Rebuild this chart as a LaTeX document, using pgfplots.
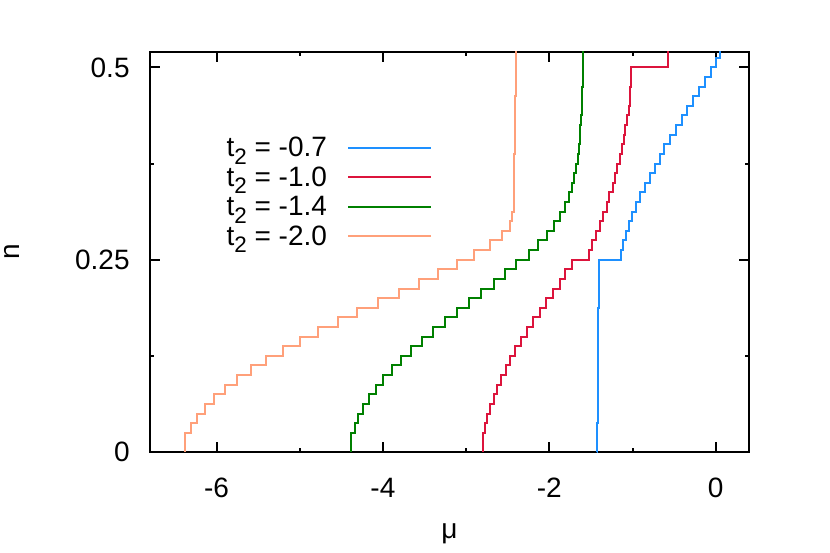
\documentclass[border=0pt]{standalone}
\usepackage{fontspec}
\setmainfont{Liberation Sans}
\usepackage{pgfplots}
\pgfplotsset{compat=1.18}
\definecolor{cblue}{RGB}{30,144,255}
\definecolor{cred}{RGB}{220,20,60}
\definecolor{cgreen}{RGB}{0,128,0}
\definecolor{corange}{RGB}{255,160,122}
\newcommand{\ttwo}{t\raisebox{-3.6pt}{\fontsize{11.2}{12}\selectfont 2}}
\begin{document}
\begin{tikzpicture}
\begin{axis}[
  scale only axis,
  width=299.5pt, height=200pt,
  xmin=-6.8, xmax=0.4, ymin=0, ymax=0.52,
  xtick={-6,-4,-2,0}, xticklabels={-6,-4,-2,0},
  ytick={0,0.25,0.5}, yticklabels={0,0.25,0.5},
  minor x tick num=1, minor y tick num=1,
  major tick length=5pt, minor tick length=2.2pt,
  axis line style={line width=1pt},
  tick style={line width=1pt, black},
  tick label style={font=\fontsize{14}{16}\selectfont},
  xticklabel style={inner sep=0pt, yshift=-13pt},
  yticklabel style={inner sep=0pt, xshift=-10pt},
  xlabel={μ}, ylabel={n},
  label style={font=\fontsize{14}{16}\selectfont},
  xlabel style={at={(axis description cs:0.5,-0.205)}, anchor=center},
  ylabel style={at={(axis description cs:-0.230,0.5)}, anchor=center},
  no markers,
  legend style={draw=none, fill=none, inner sep=0pt, outer sep=0pt,
    at={(axis description cs:0.4708,0.788)}, anchor=north east,
    font=\fontsize{14}{16}\selectfont,
    nodes={inner sep=0pt, text height=10pt, text depth=4.75pt},
    /tikz/column sep=10pt, /tikz/row sep=0pt},
  legend cell align=right,
  legend plot pos=right,
  legend image code/.code={\draw[#1, line width=1pt] (0pt,2pt) -- (41.5pt,2pt);},
]
\addplot[const plot, color=cblue, line width=1pt] coordinates {
(-1.425,0) (-1.424,0.0125) (-1.423,0.025) (-1.422,0.0375) (-1.421,0.05)
(-1.420,0.0625) (-1.419,0.075) (-1.418,0.0875) (-1.417,0.1) (-1.416,0.1125)
(-1.415,0.125) (-1.414,0.1375) (-1.413,0.15) (-1.412,0.1625) (-1.411,0.175)
(-1.410,0.1875) (-1.409,0.2) (-1.408,0.2125) (-1.407,0.225) (-1.406,0.2375)
(-1.405,0.25)
(-1.142,0.2625) (-1.115,0.275) (-1.083,0.2875) (-1.047,0.3) (-1.006,0.3125)
(-0.958,0.325) (-0.906,0.3375) (-0.854,0.35) (-0.794,0.3625) (-0.734,0.375)
(-0.674,0.3875) (-0.617,0.4) (-0.545,0.4125) (-0.476,0.425) (-0.409,0.4375)
(-0.345,0.45) (-0.272,0.4625) (-0.200,0.475) (-0.128,0.4875) (-0.056,0.5)
(0.000,0.5125) (0.048,0.525)
};
\addlegendentry{\ttwo{} = -0.7}
\addplot[const plot, color=cred, line width=1pt] coordinates {
(-2.796,0) (-2.796,0.025) (-2.768,0.0375) (-2.748,0.05) (-2.708,0.0625)
(-2.668,0.075) (-2.628,0.0875) (-2.580,0.1) (-2.520,0.1125) (-2.468,0.125)
(-2.408,0.1375) (-2.340,0.15) (-2.268,0.1625) (-2.196,0.175) (-2.116,0.1875)
(-2.036,0.2) (-1.956,0.2125) (-1.876,0.225) (-1.808,0.2375) (-1.728,0.25)
(-1.525,0.2625) (-1.482,0.275) (-1.438,0.2875) (-1.388,0.3) (-1.352,0.3125)
(-1.312,0.325) (-1.278,0.3375) (-1.238,0.35) (-1.207,0.3625) (-1.182,0.375)
(-1.150,0.3875) (-1.128,0.4) (-1.108,0.4125) (-1.088,0.425) (-1.068,0.4375)
(-1.048,0.45) (-1.036,0.4625) (-1.028,0.475) (-1.020,0.4875) (-1.014,0.5)
(-0.578,0.55)
};
\addlegendentry{\ttwo{} = -1.0}
\addplot[const plot, color=cgreen, line width=1pt] coordinates {
(-4.383,0) (-4.383,0.025) (-4.340,0.0375) (-4.296,0.05) (-4.236,0.0625)
(-4.168,0.075) (-4.088,0.0875) (-4.000,0.1) (-3.896,0.1125) (-3.784,0.125)
(-3.664,0.1375) (-3.536,0.15) (-3.400,0.1625) (-3.256,0.175) (-3.108,0.1875)
(-2.964,0.2) (-2.820,0.2125) (-2.668,0.225) (-2.528,0.2375) (-2.395,0.25)
(-2.250,0.2625) (-2.135,0.275) (-2.032,0.2875) (-1.948,0.3) (-1.872,0.3125)
(-1.815,0.325) (-1.768,0.3375) (-1.728,0.35) (-1.700,0.3625) (-1.675,0.375)
(-1.659,0.3875) (-1.645,0.4) (-1.635,0.4125) (-1.627,0.425) (-1.619,0.4375)
(-1.611,0.45) (-1.607,0.4625) (-1.603,0.475) (-1.600,0.4875) (-1.598,0.5)
(-1.596,0.5125) (-1.595,0.525)
};
\addlegendentry{\ttwo{} = -1.4}
\addplot[const plot, color=corange, line width=1pt] coordinates {
(-6.375,0) (-6.375,0.025) (-6.310,0.0375) (-6.231,0.05) (-6.143,0.0625)
(-6.032,0.075) (-5.904,0.0875) (-5.750,0.1) (-5.586,0.1125) (-5.404,0.125)
(-5.204,0.1375) (-4.996,0.15) (-4.775,0.1625) (-4.546,0.175) (-4.307,0.1875)
(-4.065,0.2) (-3.813,0.2125) (-3.566,0.225) (-3.342,0.2375) (-3.105,0.25)
(-2.900,0.2625) (-2.715,0.275) (-2.569,0.2875) (-2.478,0.3) (-2.447,0.3125)
(-2.429,0.325) (-2.427,0.3375) (-2.425,0.35) (-2.423,0.3625) (-2.421,0.375)
(-2.419,0.3875) (-2.417,0.4) (-2.415,0.4125) (-2.413,0.425) (-2.411,0.4375)
(-2.409,0.45) (-2.407,0.4625) (-2.405,0.475) (-2.403,0.4875) (-2.401,0.5)
(-2.399,0.5125) (-2.397,0.525)
};
\addlegendentry{\ttwo{} = -2.0}
\end{axis}
\pgfresetboundingbox
\path[use as bounding box] ([xshift=-75pt,yshift=-50pt]current axis.south west) rectangle ([xshift=40.5pt,yshift=26pt]current axis.north east);
\end{tikzpicture}
\end{document}
